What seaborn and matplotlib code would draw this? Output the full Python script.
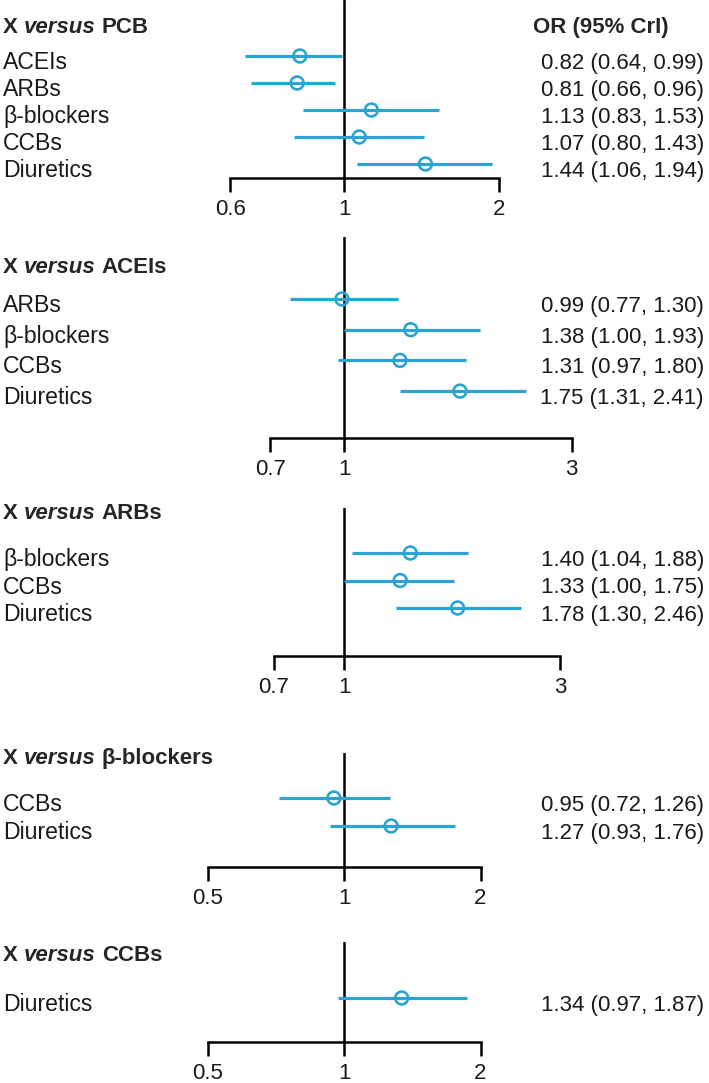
import numpy as np
import pandas as pd
import matplotlib
matplotlib.use("Agg")
import matplotlib.pyplot as plt
import matplotlib.transforms as mtransforms
from matplotlib.ticker import NullLocator
import seaborn as sns

# X versus PCB
pcb_labels = ["ACEIs", "ARBs", "β-blockers", "CCBs", "Diuretics"]
pcb_or = [0.82, 0.81, 1.13, 1.07, 1.44]
pcb_lo = [0.64, 0.66, 0.83, 0.80, 1.06]
pcb_hi = [0.99, 0.96, 1.53, 1.43, 1.94]

# X versus ACEIs
acei_labels = ["ARBs", "β-blockers", "CCBs", "Diuretics"]
acei_or = [0.99, 1.38, 1.31, 1.75]
acei_lo = [0.77, 1.00, 0.97, 1.31]
acei_hi = [1.30, 1.93, 1.80, 2.41]

# X versus ARBs
arb_labels = ["β-blockers", "CCBs", "Diuretics"]
arb_or = [1.40, 1.33, 1.78]
arb_lo = [1.04, 1.00, 1.30]
arb_hi = [1.88, 1.75, 2.46]

# X versus beta-blockers
bb_labels = ["CCBs", "Diuretics"]
bb_or = [0.95, 1.27]
bb_lo = [0.72, 0.93]
bb_hi = [1.26, 1.76]

# X versus CCBs
ccb_labels = ["Diuretics"]
ccb_or = [1.34]
ccb_lo = [0.97]
ccb_hi = [1.87]

references = ["PCB", "ACEIs", "ARBs", "β-blockers", "CCBs"]
tick_values = [[0.6, 1, 2], [0.7, 1, 3], [0.7, 1, 3], [0.5, 1, 2], [0.5, 1, 2]]
tick_labels = [["0.6", "1", "2"], ["0.7", "1", "3"], ["0.7", "1", "3"],
               ["0.5", "1", "2"], ["0.5", "1", "2"]]

W, H = 709, 1083
BLUE = "#2ba3d3"
FONT = 16
LINE_W = 1.8

# pixel layout per panel: line top, header baseline, first row, row step, axis y, xlim
layouts = [
    (0,   33,  56,  27.0, 178, (0.524, 3.15)),
    (237, 273, 299, 30.7, 438, (0.499, 3.44)),
    (508, 519, 553, 27.5, 656, (0.481, 3.67)),
    (753, 764, 798, 28.0, 867, (0.481, 3.67)),
    (942, 961, 998, 28.0, 1042, (0.481, 3.67)),
]


def make_frame(labels, est, lo, hi):
    return pd.DataFrame({"label": labels, "or": est, "lo": lo, "hi": hi,
                         "row": np.arange(len(labels))})


def draw_header(fig, ax, y, name):
    t1 = fig.text(3 / W, 1 - y / H, "X", fontsize=FONT, fontweight="bold",
                  va="baseline", ha="left")
    t2 = ax.annotate("versus", xy=(1, 0), xycoords=t1, xytext=(4.4, 0),
                     textcoords="offset points", fontsize=FONT, fontweight="bold",
                     fontstyle="italic", va="bottom", ha="left", annotation_clip=False)
    ax.annotate(name, xy=(1, 0), xycoords=t2, xytext=(4.4, 0),
                textcoords="offset points", fontsize=FONT, fontweight="bold",
                va="bottom", ha="left", annotation_clip=False)


def draw_panel(fig, frame, layout, ticks, labels, name):
    top, head, row1, step, axis_y, xlim = layout
    n = len(frame)
    ax = fig.add_axes([200 / W, 1 - axis_y / H, 400 / W, (axis_y - top) / H])
    ax.patch.set_alpha(0)

    ax.hlines(frame["row"], frame["lo"], frame["hi"], color=BLUE, lw=2.3, zorder=2)
    sns.scatterplot(data=frame, x="or", y="row", ax=ax, s=85, marker="o",
                    facecolors="none", edgecolor=BLUE, linewidth=1.9,
                    zorder=3, legend=False)
    ax.axvline(1, color="black", lw=LINE_W, zorder=1)

    ax.set_xscale("log")
    ax.set_xlim(*xlim)
    last = row1 + (n - 1) * step
    ax.set_ylim(n - 1 + (axis_y - last) / step, -(row1 - top) / step)
    ax.set_xticks(ticks)
    ax.set_xticklabels(labels)
    ax.xaxis.set_minor_locator(NullLocator())
    ax.set_yticks([])
    ax.set(xlabel="", ylabel="")

    for side in ["left", "top", "right"]:
        ax.spines[side].set_visible(False)
    ax.spines["bottom"].set_bounds(ticks[0], ticks[-1])
    ax.spines["bottom"].set_linewidth(LINE_W)
    ax.spines["bottom"].set_color("black")
    ax.tick_params(axis="x", bottom=True, direction="out", length=10, width=LINE_W,
                   color="black", labelsize=FONT, pad=5, labelcolor="#1a1a1a")

    trans = mtransforms.blended_transform_factory(fig.transFigure, ax.transData) \
        + mtransforms.ScaledTranslation(0, -13 / 100, fig.dpi_scale_trans)
    for _, r in frame.iterrows():
        ax.text(3 / W, r["row"], r["label"], transform=trans, fontsize=16.6,
                va="baseline", ha="left", color="#1a1a1a")
        ax.text(704 / W, r["row"], f"{r['or']:.2f} ({r['lo']:.2f}, {r['hi']:.2f})",
                transform=trans, fontsize=FONT, va="baseline", ha="right",
                color="#1a1a1a")

    draw_header(fig, ax, head, name)
    return ax


sns.set_theme(style="white")
plt.rcParams["font.family"] = ["Liberation Sans", "DejaVu Sans"]

fig = plt.figure(figsize=(W / 100, H / 100), dpi=100)

frames = [make_frame(pcb_labels, pcb_or, pcb_lo, pcb_hi),
          make_frame(acei_labels, acei_or, acei_lo, acei_hi),
          make_frame(arb_labels, arb_or, arb_lo, arb_hi),
          make_frame(bb_labels, bb_or, bb_lo, bb_hi),
          make_frame(ccb_labels, ccb_or, ccb_lo, ccb_hi)]

for frame, layout, ticks, labels, name in zip(frames, layouts, tick_values,
                                              tick_labels, references):
    draw_panel(fig, frame, layout, ticks, labels, name)

fig.text(533 / W, 1 - 33 / H, "OR (95% CrI)", fontsize=FONT, fontweight="bold",
         va="baseline", ha="left")

fig.savefig("out.png", dpi=100)
